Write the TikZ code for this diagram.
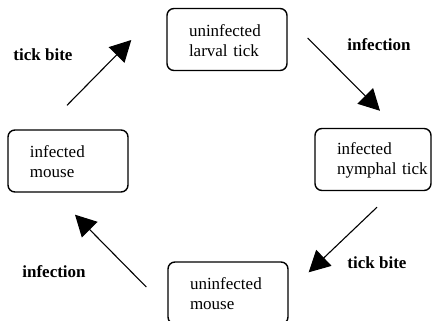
\documentclass[tikz,border=0pt]{standalone}
\usepackage{fontspec}
\setmainfont{Liberation Serif}
\usetikzlibrary{arrows.meta, calc}

\begin{document}
\begin{tikzpicture}[
	x=1pt, y=-1pt,
	box/.style={rectangle, draw, line width=1.4pt, rounded corners=7pt, text width=76pt, inner xsep=22pt, inner ysep=0pt, minimum height=62pt, align=left, font=\fontsize{17}{20}\selectfont},
	lbl/.style={font=\fontsize{17}{20}\selectfont\bfseries},
	flow/.style={draw, line width=1.1pt, -{Triangle[length=21pt, width=22pt]}}
	]
	
	\useasboundingbox (0,0) rectangle (432,321);
	
	% the four stages of the cycle
	\node[box] (larval_tick) at (227,39.5) {\strut uninfected\\larval tick};
	\node[box, text width=72pt] (nymphal_tick) at (373,159.5) {\strut infected\\nymphal~tick};
	\node[box] (uninfected_mouse) at (228,293) {\strut uninfected\\mouse};
	\node[box] (infected_mouse) at (68,161) {\strut infected\\mouse};
	
	% arrows between stages
	\draw[flow] ($(infected_mouse.north)+(-1,-24)$) -- ($(larval_tick.west)+(-35,0.5)$);
	\draw[flow] ($(larval_tick.east)+(20,-1.5)$) -- ($(nymphal_tick.north)+(7,-17)$);
	\draw[flow] ($(nymphal_tick.south)+(4,16)$) -- ($(uninfected_mouse.north east)+(20,11)$);
	\draw[flow] ($(uninfected_mouse.west)+(-21,-6)$) -- ($(infected_mouse.south)+(7,22)$);
	
	% labels
	\node[lbl] (bite_up) at (43,55) {tick bite};
	\node[lbl] (infection_right) at (379,45) {infection};
	\node[lbl] (bite_down) at (377,263) {tick bite};
	\node[lbl] (infection_left) at (54,272) {infection};
	
\end{tikzpicture}
\end{document}
